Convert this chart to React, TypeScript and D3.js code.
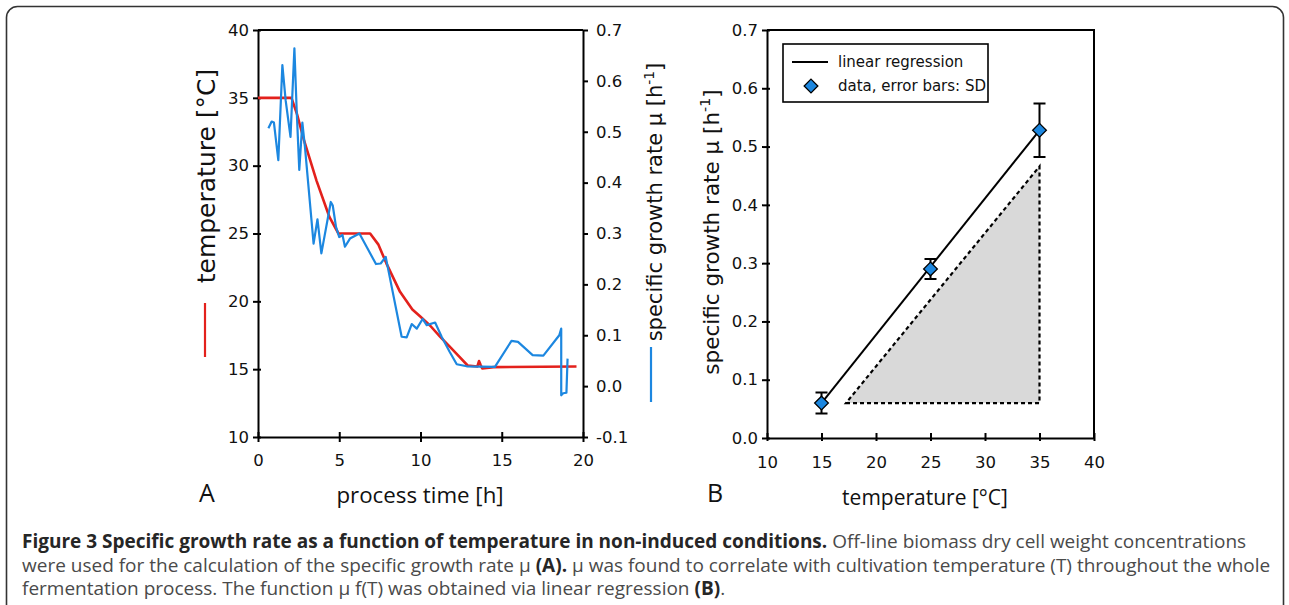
import React, { useEffect, useRef } from "react";
import * as d3 from "d3";

// panel A: temperature profile (red)
const tempTime = [0, 2.06, 2.4, 2.8, 3.6, 4.4, 4.95, 6.9, 7.4, 7.9, 8.74, 9.5, 9.97, 10.6, 11.2, 11.8, 12.4, 12.9, 13.5, 13.6, 13.7, 13.8, 14.5, 19.6];
const tempValue = [35, 35, 33.8, 32, 28.9, 26.2, 25, 25, 24.2, 22.8, 20.7, 19.4, 18.9, 18.2, 17.4, 16.66, 15.9, 15.27, 15.2, 15.6, 15.3, 15.05, 15.15, 15.2];

// panel A: specific growth rate (blue)
const muTime = [0.64, 0.84, 0.98, 1.25, 1.5, 1.7, 2.0, 2.24, 2.38, 2.54, 2.73, 2.89, 3.42, 3.66, 3.9, 4.48, 4.6, 4.8, 5.0, 5.2, 5.35, 5.66, 6.24, 6.8, 7.26, 7.55, 7.86, 8.84, 9.15, 9.46, 9.77, 10.13, 10.38, 10.9, 11.3, 11.8, 12.23, 12.84, 14.58, 15.6, 16.0, 16.9, 17.56, 18.54, 18.66, 18.66, 18.78, 18.98, 19.05];
const muValue = [0.507, 0.52, 0.518, 0.444, 0.631, 0.562, 0.49, 0.664, 0.543, 0.425, 0.518, 0.47, 0.28, 0.328, 0.261, 0.362, 0.355, 0.313, 0.293, 0.297, 0.274, 0.29, 0.3, 0.267, 0.24, 0.241, 0.254, 0.097, 0.096, 0.122, 0.113, 0.132, 0.12, 0.125, 0.097, 0.067, 0.043, 0.039, 0.038, 0.089, 0.087, 0.061, 0.06, 0.1, 0.113, -0.018, -0.014, -0.013, 0.054];

// panel B: mu vs temperature
const bTemp = [15, 25, 35];
const bMu = [0.06, 0.29, 0.528];
const bSD = [0.018, 0.017, 0.046];
const regTemp = [15, 35];
const regMu = [0.06, 0.528];
const triTemp = [17.25, 35, 35];
const triMu = [0.06, 0.06, 0.466];

const ticksTemp = [10, 15, 20, 25, 30, 35, 40];
const ticksMuA = [-0.1, 0, 0.1, 0.2, 0.3, 0.4, 0.5, 0.6, 0.7];
const ticksTimeA = [0, 5, 10, 15, 20];
const ticksMuB = [0, 0.1, 0.2, 0.3, 0.4, 0.5, 0.6, 0.7];
const ticksTempB = [10, 15, 20, 25, 30, 35, 40];

const RED = "#e3211c";
const BLUE = "#1c87e0";
const TICK_FONT = "DejaVu Sans, Verdana, sans-serif";
const CAP_FONT = "Open Sans, sans-serif";

function App() {
  const ref = useRef<SVGSVGElement>(null);

  useEffect(() => {
    document.body.style.margin = "0";
    const svg = d3.select(ref.current);
    svg.selectAll("*").remove();

    // outer frame
    svg
      .append("rect")
      .attr("x", 6.5)
      .attr("y", 6.5)
      .attr("width", 1277)
      .attr("height", 640)
      .attr("rx", 11)
      .attr("fill", "none")
      .attr("stroke", "#333")
      .attr("stroke-width", 1.6);

    const fmt1 = (d: number) => d3.format(".1f")(d).replace("\u2212", "-");

    // ---------- panel A ----------
    const xA = d3.scaleLinear().domain([0, 20]).range([258, 583]);
    const yT = d3.scaleLinear().domain([10, 40]).range([437, 30]);
    const yM = d3.scaleLinear().domain([-0.1, 0.7]).range([437, 30]);

    const gA = svg.append("g");
    gA.append("line")
      .attr("x1", xA(0)).attr("x2", xA(20))
      .attr("y1", yT(40)).attr("y2", yT(40))
      .attr("stroke", "#000").attr("stroke-width", 2);

    const axL = gA.append("g").attr("transform", `translate(${xA(0)},0)`)
      .call(d3.axisLeft(yT).tickValues(ticksTemp).tickSizeInner(5).tickSizeOuter(0).tickPadding(4));
    const axR = gA.append("g").attr("transform", `translate(${xA(20)},0)`)
      .call(d3.axisRight(yM).tickValues(ticksMuA).tickFormat(fmt1 as any).tickSizeInner(5).tickSizeOuter(0).tickPadding(8));
    const axB = gA.append("g").attr("transform", `translate(0,${yT(10)})`)
      .call(d3.axisBottom(xA).tickValues(ticksTimeA).tickSizeInner(-5).tickSizeOuter(0).tickPadding(17));
    axB.selectAll(".tick line").attr("y2", 5).attr("y1", -5);
    axL.selectAll(".tick line").attr("x1", 3);

    const tempLine = d3.line<number>().x((d, i) => xA(tempTime[i])).y(d => yT(d));
    const muLine = d3.line<number>().x((d, i) => xA(muTime[i])).y(d => yM(d));

    gA.append("path").attr("d", tempLine(tempValue) as string)
      .attr("fill", "none").attr("stroke", RED).attr("stroke-width", 2.6).attr("stroke-linejoin", "round");
    gA.append("path").attr("d", muLine(muValue) as string)
      .attr("fill", "none").attr("stroke", BLUE).attr("stroke-width", 2.2).attr("stroke-linejoin", "round");

    // ---------- panel B ----------
    const xB = d3.scaleLinear().domain([10, 40]).range([767, 1094]);
    const yB = d3.scaleLinear().domain([0, 0.7]).range([438, 30]);

    const gB = svg.append("g");
    gB.append("path")
      .attr("d", `M${xB(10)},${yB(0.7)}H${xB(40)}V${yB(0)}`)
      .attr("fill", "none").attr("stroke", "#000").attr("stroke-width", 2);

    const bL = gB.append("g").attr("transform", `translate(${xB(10)},0)`)
      .call(d3.axisLeft(yB).tickValues(ticksMuB).tickFormat(fmt1 as any).tickSizeInner(5).tickSizeOuter(0).tickPadding(4));
    const bX = gB.append("g").attr("transform", `translate(0,${yB(0)})`)
      .call(d3.axisBottom(xB).tickValues(ticksTempB).tickSizeInner(-5).tickSizeOuter(0).tickPadding(18));
    bX.selectAll(".tick line").attr("y2", -5).attr("y1", 3);
    bL.selectAll(".tick line").attr("x1", 3);

    [axL, axR, axB, bL, bX].forEach(ax => {
      ax.attr("font-size", null).attr("font-family", null);
      ax.select(".domain").attr("stroke-width", 2);
      ax.selectAll(".tick line").attr("stroke-width", 2);
      ax.selectAll(".tick text")
        .style("font-family", TICK_FONT)
        .style("font-size", "16.5px")
        .attr("fill", "#111");
    });

    // shaded triangle
    const tri = d3.line<number>().x((d, i) => xB(triTemp[i])).y(d => yB(d));
    gB.append("path").attr("d", (tri(triMu) as string) + "Z")
      .attr("fill", "#d9d9d9").attr("stroke", "#000").attr("stroke-width", 2.2)
      .attr("stroke-dasharray", "4,3");

    // regression line
    const reg = d3.line<number>().x((d, i) => xB(regTemp[i])).y(d => yB(d));
    gB.append("path").attr("d", reg(regMu) as string)
      .attr("fill", "none").attr("stroke", "#000").attr("stroke-width", 2);

    // error bars + diamonds
    const pts = gB.selectAll("g.pt").data(bMu).enter().append("g").attr("class", "pt");
    pts.append("path")
      .attr("d", (d, i) => {
        const x = xB(bTemp[i]);
        const y1 = yB(d + bSD[i]);
        const y2 = yB(d - bSD[i]);
        return `M${x},${y1}V${y2}M${x - 6},${y1}H${x + 6}M${x - 6},${y2}H${x + 6}`;
      })
      .attr("fill", "none").attr("stroke", "#000").attr("stroke-width", 2);
    const diamond = d3.symbol().type(d3.symbolDiamond2).size(120);
    pts.append("path")
      .attr("d", diamond() as string)
      .attr("transform", (d, i) => `translate(${xB(bTemp[i])},${yB(d)})`)
      .attr("fill", BLUE).attr("stroke", "#000").attr("stroke-width", 1.3);

    // legend
    const lg = gB.append("g");
    lg.append("rect").attr("x", 783).attr("y", 44).attr("width", 205).attr("height", 58)
      .attr("fill", "#fff").attr("stroke", "#000").attr("stroke-width", 1.6);
    lg.append("line").attr("x1", 792).attr("x2", 828).attr("y1", 62).attr("y2", 62)
      .attr("stroke", "#000").attr("stroke-width", 2);
    lg.append("path").attr("d", diamond() as string).attr("transform", "translate(811,86)")
      .attr("fill", BLUE).attr("stroke", "#000").attr("stroke-width", 1.3);
    lg.append("text").attr("x", 838).attr("y", 67).text("linear regression");
    lg.append("text").attr("x", 838).attr("y", 91).text("data, error bars: SD");
    lg.selectAll("text").attr("font-family", TICK_FONT).attr("font-size", 15).attr("fill", "#111");

    // ---------- titles ----------
    const title = (x: number, y: number, size: number) =>
      svg.append("text")
        .attr("transform", `translate(${x},${y}) rotate(-90)`)
        .attr("text-anchor", "middle")
        .attr("font-family", TICK_FONT)
        .attr("font-size", size)
        .attr("fill", "#111");

    title(215, 176, 25).text("temperature [°C]");
    svg.append("line").attr("x1", 205).attr("x2", 205).attr("y1", 303).attr("y2", 357)
      .attr("stroke", RED).attr("stroke-width", 2.2);

    const muTitle = (x: number, y: number, size: number) => {
      const t = title(x, y, size);
      t.append("tspan").text("specific growth rate μ [h");
      t.append("tspan").attr("font-size", size * 0.66).attr("dy", -size * 0.4).text("-1");
      t.append("tspan").attr("dy", size * 0.4).text("]");
      return t;
    };
    muTitle(662, 202, 21);
    svg.append("line").attr("x1", 651).attr("x2", 651).attr("y1", 347).attr("y2", 402)
      .attr("stroke", BLUE).attr("stroke-width", 2.2);
    muTitle(719, 232, 21.5);

    const bottom = (x: number, y: number, s: string, size: number) =>
      svg.append("text").attr("x", x).attr("y", y).attr("text-anchor", "middle")
        .attr("font-family", CAP_FONT).attr("font-size", size).attr("fill", "#111").text(s);
    bottom(207, 502, "A", 25);
    bottom(420, 503, "process time [h]", 22.3);
    bottom(715, 502, "B", 25);
    bottom(925, 505, "temperature [°C]", 21);

    // ---------- caption ----------
    const cap = svg.append("text").attr("font-family", CAP_FONT).attr("font-size", 19).attr("fill", "#4a4a4a");
    const l1 = cap.append("tspan").attr("x", 22).attr("y", 548);
    l1.append("tspan").attr("font-weight", "bold").attr("fill", "#262626")
      .text("Figure 3 Specific growth rate as a function of temperature in non-induced conditions.");
    l1.append("tspan").text(" Off-line biomass dry cell weight concentrations");
    const l2 = cap.append("tspan").attr("x", 22).attr("y", 571.5);
    l2.append("tspan").text("were used for the calculation of the specific growth rate μ ");
    l2.append("tspan").attr("font-weight", "bold").attr("fill", "#262626").text("(A).");
    l2.append("tspan").text(" μ was found to correlate with cultivation temperature (T) throughout the whole");
    const l3 = cap.append("tspan").attr("x", 22).attr("y", 595);
    l3.append("tspan").text("fermentation process. The function μ f(T) was obtained via linear regression ");
    l3.append("tspan").attr("font-weight", "bold").attr("fill", "#262626").text("(B)");
    l3.append("tspan").text(".");
  }, []);

  return <svg ref={ref} width={1289} height={605} style={{ display: "block", background: "#fff" }} />;
}

export default App;
